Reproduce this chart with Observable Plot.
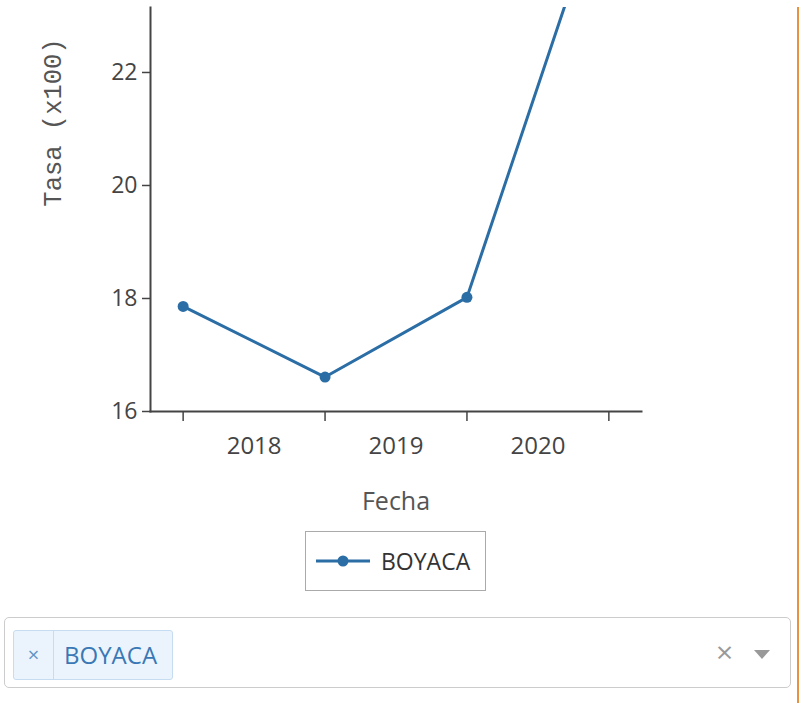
<!DOCTYPE html>
<html>
<head>
<meta charset="utf-8">
<script src="https://cdn.jsdelivr.net/npm/d3@7"></script>
<script src="https://cdn.jsdelivr.net/npm/@observablehq/plot@0.6"></script>
<style>
  html, body { margin: 0; padding: 0; background: #fff; }
  body { width: 808px; height: 703px; position: relative; overflow: hidden; font-family: "Open Sans", sans-serif; }
  #chart { position: absolute; left: 0; top: 0; }
  #orange { position: absolute; left: 797px; top: 7px; width: 2px; height: 696px; background: #e8923f; }
  #legend { position: absolute; left: 305px; top: 531px; width: 179px; height: 58px; border: 1px solid #aaa; box-sizing: content-box; }
  #legend svg { position: absolute; left: 0; top: 0; }
  #legend span { position: absolute; left: 75px; top: 12px; font-size: 23px; color: #333; line-height: 34px; }
  #select { position: absolute; left: 4px; top: 617px; width: 785px; height: 69px; border: 1px solid #ccc; border-radius: 5px; }
  #tag { position: absolute; left: 8px; top: 12px; width: 158px; height: 48px; border: 1px solid #c6ddf1; background: #ebf4fc; border-radius: 3px; }
  #tag .x { position: absolute; left: 0; top: 0; width: 39px; height: 48px; border-right: 1px solid #c6ddf1; color: #5f93c6; font-size: 20px; line-height: 48px; text-align: center; }
  #tag .v { position: absolute; left: 50px; top: 0; height: 48px; color: #3a78b5; font-size: 24px; line-height: 48px; }
  #clear { position: absolute; left: 711px; top: 14px; color: #999; font-size: 30px; line-height: 40px; }
  #arrow { position: absolute; left: 749px; top: 32px; width: 0; height: 0; border-left: 8px solid transparent; border-right: 8px solid transparent; border-top: 9px solid #999; }
</style>
</head>
<body>
<div id="chart"></div>
<div id="orange"></div>
<div id="legend"></div>
<div id="select"></div>
<script>
// Data
const seriesName = "BOYACA";
const years = [2018, 2019, 2020, 2021];
const values = [17.86, 16.61, 18.02, 25.5];
const yTicks = [16, 18, 20, 22];
const xLabelPositions = [2018.5, 2019.5, 2020.5];
const xTickLabels = ["2018", "2019", "2020"];
const xLabel = "Fecha";
const yLabel = "Tasa (x100)";

const data = years.map((y, i) => ({year: y, value: values[i]}));
const lineColor = "#2b6da5";
const axisColor = "#444";

const chart = Plot.plot({
  width: 808,
  height: 520,
  marginTop: 7,
  marginLeft: 150,
  marginRight: 167,
  marginBottom: 109,
  style: {fontFamily: "Open Sans, sans-serif", color: axisColor, background: "transparent"},
  x: {domain: [2017.77, 2021.23]},
  y: {domain: [16, 23.15]},
  marks: [
    Plot.axisY({ticks: yTicks, tickSize: 8, tickPadding: 5, fontSize: 23, label: null, stroke: axisColor, strokeWidth: 1.5, color: axisColor}),
    Plot.axisX({ticks: years, tickSize: 10, tickFormat: () => "", label: null, stroke: axisColor, strokeWidth: 1.5}),
    Plot.axisX({ticks: xLabelPositions, tickSize: 0, tickPadding: 25, fontSize: 24, tickFormat: (d, i) => xTickLabels[i], label: null, color: axisColor}),
    Plot.frame({anchor: "bottom", stroke: axisColor, strokeWidth: 2}),
    Plot.frame({anchor: "left", stroke: axisColor, strokeWidth: 2}),
    Plot.line(data, {x: "year", y: "value", stroke: lineColor, strokeWidth: 3, clip: true}),
    Plot.dot(data, {x: "year", y: "value", r: 5.5, fill: lineColor, clip: true}),
    Plot.text([xLabel], {frameAnchor: "bottom", dy: 90, fontSize: 25, fill: "#555", lineAnchor: "middle"}),
    Plot.text([yLabel], {frameAnchor: "top-left", dx: -98, dy: 115, rotate: -90, fontSize: 25.5, fill: "#555", lineAnchor: "middle", textAnchor: "middle", fontFamily: "Liberation Mono, monospace"})
  ]
});
document.getElementById("chart").appendChild(chart);

// Legend (swatch drawn with the same colour as the series)
const legend = document.getElementById("legend");
legend.innerHTML = `<svg width="181" height="60"><line x1="10" x2="64" y1="29" y2="29" stroke="${lineColor}" stroke-width="3"/><circle cx="37" cy="29" r="5.5" fill="${lineColor}"/></svg><span>${seriesName}</span>`;

// Multi-select control
document.getElementById("select").innerHTML =
  `<div id="tag"><div class="x">×</div><div class="v">${seriesName}</div></div><div id="clear">×</div><div id="arrow"></div>`;
</script>
</body>
</html>
